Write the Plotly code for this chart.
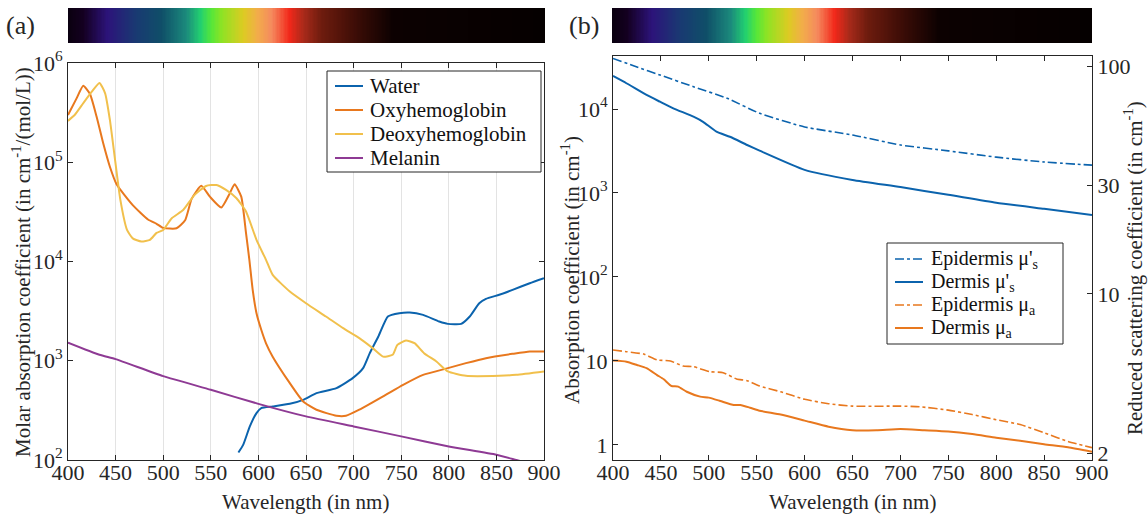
import plotly.graph_objects as go

# ---------------- data: panel (a) ----------------
water_wl = [579, 584, 591, 598, 603, 615, 633, 647, 661, 682, 699, 710, 717, 726, 736, 748, 759, 773, 790, 799, 813, 822, 832, 839, 853, 867, 885, 900]
water = [119, 142, 218, 297, 333, 346, 368, 404, 472, 530, 668, 842, 1193, 1755, 2790, 3015, 3063, 2900, 2486, 2353, 2353, 2790, 3800, 4200, 4620, 5180, 6040, 6790]

oxy_wl = [400, 409, 416, 423, 430, 437, 444, 451, 468, 484, 493, 500, 514, 523, 530, 540, 549, 561, 570, 575, 582, 587, 590.5, 594, 598, 603, 608, 615, 633, 647, 661, 682, 692, 706, 731, 752, 773, 799, 818, 839, 867, 885, 900]
oxy = [299e3, 440e3, 590e3, 490e3, 289e3, 155e3, 90e3, 60e3, 37e3, 26.5e3, 24e3, 21.8e3, 21.6e3, 26e3, 43e3, 58e3, 45e3, 35e3, 48.8e3, 60e3, 45e3, 19.3e3, 10.4e3, 5180, 3010, 2050, 1500, 1100, 595, 389, 321, 279, 279, 321, 437, 572, 721, 842, 946, 1062, 1174, 1240, 1240]

deoxy_wl = [400, 407, 416, 425, 433, 439, 444, 449, 455, 462, 468, 477, 486, 493, 500, 509, 521, 533, 545, 556, 566, 577, 587, 598, 608, 615, 633, 650, 671, 689, 706, 720, 731, 741, 746, 755, 764, 774, 787, 799, 818, 853, 871, 900]
deoxy = [261e3, 299e3, 393e3, 514e3, 630e3, 495e3, 267e3, 114e3, 41.7e3, 20.8e3, 17.1e3, 15.9e3, 16.5e3, 19.4e3, 20.8e3, 27.3e3, 33e3, 46.9e3, 57.7e3, 59e3, 52.6e3, 43.4e3, 31.9e3, 16.5e3, 10.4e3, 7330, 4980, 3800, 2790, 2130, 1690, 1340, 1100, 1148, 1445, 1600, 1503, 1193, 982, 780, 705, 705, 721, 780]

mel_wl = [400, 433, 450, 500, 550, 600, 650, 700, 750, 800, 850, 871, 900]
mel = [1524, 1150, 1038, 700, 510, 368, 275, 218, 173, 137, 113, 100, 84]

# ---------------- data: panel (b) ----------------
epi_scat_wl = [400, 425, 449, 484, 519, 553, 600, 650, 700, 750, 800, 850, 900]
epi_scat = [108, 99, 91.3, 81.1, 72.2, 62, 54, 49.8, 45, 42.4, 39.8, 37.9, 36.7]

der_scat_wl = [400, 414, 435, 449, 463, 484, 494, 508, 522, 540, 553, 600, 650, 700, 750, 800, 850, 900]
der_scat = [90.4, 84, 74.6, 69.7, 65.2, 59.9, 56.9, 51.5, 48.9, 45, 42.5, 35, 31.6, 29.4, 27.2, 25.1, 23.6, 22.2]

epi_abs_wl = [400, 414, 432, 446, 460, 473, 484, 501, 515, 529, 540, 553, 575, 600, 625, 650, 700, 720, 750, 775, 800, 825, 850, 875, 900]
epi_abs = [13.5, 12.9, 12.1, 10.3, 10.0, 8.7, 8.55, 7.46, 7.26, 6.1, 5.83, 5.04, 4.3, 3.5, 3.1, 2.9, 2.9, 2.85, 2.6, 2.3, 2.0, 1.75, 1.4, 1.1, 0.93]

der_abs_wl = [400, 414, 425, 435, 446, 453, 461, 468, 477, 491, 500, 512, 526, 533, 543, 553, 575, 600, 625, 650, 675, 700, 725, 750, 775, 800, 825, 850, 875, 900]
der_abs = [10.1, 9.8, 8.96, 8.2, 6.8, 6.05, 5.04, 4.95, 4.3, 3.76, 3.66, 3.34, 2.99, 2.99, 2.78, 2.56, 2.3, 1.95, 1.65, 1.5, 1.5, 1.55, 1.5, 1.45, 1.35, 1.22, 1.12, 1.02, 0.94, 0.83]

wl_ticks = [400, 450, 500, 550, 600, 650, 700, 750, 800, 850, 900]
a_yticks = [1e2, 1e3, 1e4, 1e5, 1e6]
a_yticktext = ["10<sup>2</sup>", "10<sup>3</sup>", "10<sup>4</sup>", "10<sup>5</sup>", "10<sup>6</sup>"]
b_yticks = [1, 10, 1e2, 1e3, 1e4]
b_yticktext = ["1", "10", "10<sup>2</sup>", "10<sup>3</sup>", "10<sup>4</sup>"]
b_y2ticks = [2, 10, 30, 100]
b_y2ticktext = ["2", "10", "30", "100"]

# spectrum colour strip
strip_pos = [0.0, 0.03, 0.082, 0.142, 0.195, 0.247, 0.277, 0.30, 0.322, 0.367, 0.397, 0.427, 0.464, 0.494, 0.532, 0.607, 0.682, 1.0]
strip_col = ["#0a0010", "#140020", "#2c137a", "#193a72", "#0f4e68", "#1b8a7c", "#22d070", "#55e63a", "#8ee324",
             "#dccb22", "#f2ad4a", "#f58a5e", "#f2281a", "#a82a1a", "#6e1c0e", "#3a0c06", "#0c0101", "#050000"]
strip_idx = list(range(len(strip_pos) * 20))

BLUE = "#0b63ad"
ORANGE = "#e8781e"
YELLOW = "#f1c04c"
PURPLE = "#8e3a94"
AX = "#262626"
FONT = "Liberation Serif"

W, H = 1148, 521
def px(v): return v / W
def py(v): return 1 - v / H

fig = go.Figure()

lw = 2
sp = dict(shape="spline", smoothing=0.5)
series_a = [
    ("Water", water_wl, water, BLUE, "solid"),
    ("Oxyhemoglobin", oxy_wl, oxy, ORANGE, "solid"),
    ("Deoxyhemoglobin", deoxy_wl, deoxy, YELLOW, "solid"),
    ("Melanin", mel_wl, mel, PURPLE, "solid"),
]
series_b = [
    ("Epidermis μ'<sub>s</sub>", epi_scat_wl, epi_scat, BLUE, "dashdot", "y3"),
    ("Dermis μ'<sub>s</sub>", der_scat_wl, der_scat, BLUE, "solid", "y3"),
    ("Epidermis μ<sub>a</sub>", epi_abs_wl, epi_abs, ORANGE, "dashdot", "y2"),
    ("Dermis μ<sub>a</sub>", der_abs_wl, der_abs, ORANGE, "solid", "y2"),
]
for name, xs, ys, col, dash in series_a:
    fig.add_trace(go.Scatter(x=xs, y=ys, name=name, mode="lines", showlegend=False,
                             line=dict(color=col, width=lw, dash=dash, **sp), xaxis="x", yaxis="y"))
for name, xs, ys, col, dash, yax in series_b:
    fig.add_trace(go.Scatter(x=xs, y=ys, name=name, mode="lines", showlegend=False,
                             line=dict(color=col, width=(1.6 if dash != "solid" else lw), dash=dash, **sp), xaxis="x2", yaxis=yax))

cscale = [[p, c] for p, c in zip(strip_pos, strip_col)]
fig.add_trace(go.Heatmap(z=[strip_idx], colorscale=cscale, showscale=False, xaxis="x3", yaxis="y4", hoverinfo="skip"))
fig.add_trace(go.Heatmap(z=[strip_idx], colorscale=cscale, showscale=False, xaxis="x4", yaxis="y5", hoverinfo="skip"))

tickfont = dict(family=FONT, size=22, color=AX)
titlefont = dict(family=FONT, size=21, color=AX)
common_x = dict(range=[400, 900], tickvals=wl_ticks, ticks="inside", ticklen=5, tickcolor=AX, showline=True,
                linecolor=AX, linewidth=1, mirror="ticks", tickfont=tickfont, zeroline=False, ticklabelstandoff=-7)

def title_ann(text, x, y, angle=0):
    return dict(text=text, x=px(x), y=py(y), xref="paper", yref="paper", xanchor="center", yanchor="middle",
                showarrow=False, textangle=angle, font=titlefont)

# hand-built legends (box, swatches, labels)
shapes = []
annotations = []
def add_legend(box, sw_x0, sw_x1, text_x, rows, entries, fsize):
    x0, y0, x1, y1 = box
    shapes.append(dict(type="rect", xref="paper", yref="paper", x0=px(x0), x1=px(x1), y0=py(y1), y1=py(y0),
                       line=dict(color=AX, width=1), fillcolor="white", layer="above"))
    for yy, (name, col, dash) in zip(rows, entries):
        shapes.append(dict(type="line", xref="paper", yref="paper", x0=px(sw_x0), x1=px(sw_x1), y0=py(yy), y1=py(yy),
                           line=dict(color=col, width=(1.6 if dash != "solid" else 2), dash=dash), layer="above"))
        annotations.append(dict(text=name, x=px(text_x), y=py(yy), xref="paper", yref="paper", xanchor="left",
                                yanchor="middle", showarrow=False, font=dict(family=FONT, size=fsize, color="#111111")))

add_legend((327, 71, 541, 172), 335, 363, 368, [86, 110, 134, 158],
           [(s[0], s[3], s[4]) for s in series_a], 21)
add_legend((887, 243, 1063, 344), 895, 923, 929, [259, 282, 305, 328],
           [(s[0], s[3], s[4]) for s in series_b], 20)

annotations += [
    dict(text="(a)", x=px(4), y=py(25), xref="paper", yref="paper", xanchor="left", yanchor="middle", showarrow=False,
         font=dict(family=FONT, size=26, color=AX)),
    dict(text="(b)", x=px(567), y=py(25), xref="paper", yref="paper", xanchor="left", yanchor="middle", showarrow=False,
         font=dict(family=FONT, size=26, color=AX)),
    title_ann("Wavelength (in nm)", 306, 502),
    title_ann("Wavelength (in nm)", 852, 502),
    title_ann("Molar absorption coefficient (in cm<sup>-1</sup>/(mol/L))", 21, 262, -90),
    title_ann("Absorption coefficient (in cm<sup>-1</sup>)", 570, 270, -90),
    title_ann("Reduced scattering coefficient (in cm<sup>-1</sup>)", 1133, 268, -90),
]

fig.update_layout(
    width=W, height=H, margin=dict(l=0, r=0, t=0, b=0, autoexpand=False),
    plot_bgcolor="white", paper_bgcolor="white",
    font=dict(family=FONT, color=AX),
    showlegend=False,
    xaxis=dict(domain=[px(68), px(544)], anchor="y", showgrid=True, gridcolor="#e3e3e3", gridwidth=1, **common_x),
    yaxis=dict(domain=[py(460), py(63)], anchor="x", type="log", range=[2, 6], tickvals=a_yticks, ticktext=a_yticktext,
               ticks="inside", ticklen=5, tickcolor=AX, showline=True, linecolor=AX, linewidth=1, mirror="ticks",
               showgrid=False, tickfont=tickfont, zeroline=False),
    xaxis2=dict(domain=[px(613), px(1092)], anchor="y2", showgrid=False, **common_x),
    yaxis2=dict(domain=[py(460), py(56)], anchor="x2", type="log", range=[-0.179, 4.631], tickvals=b_yticks, ticktext=b_yticktext,
                ticks="inside", ticklen=5, tickcolor=AX, showline=True, linecolor=AX, linewidth=1,
                showgrid=False, tickfont=tickfont, zeroline=False),
    yaxis3=dict(overlaying="y2", anchor="x2", side="right", type="log", range=[0.2704, 2.0439], tickvals=b_y2ticks, ticktext=b_y2ticktext,
                ticks="inside", ticklen=5, tickcolor=AX, showline=True, linecolor=AX, linewidth=1,
                showgrid=False, tickfont=tickfont, zeroline=False),
    xaxis3=dict(domain=[px(68), px(545)], anchor="y4", visible=False),
    yaxis4=dict(domain=[py(43), py(8)], anchor="x3", visible=False),
    xaxis4=dict(domain=[px(612), px(1092)], anchor="y5", visible=False),
    yaxis5=dict(domain=[py(43), py(8)], anchor="x4", visible=False),
    shapes=shapes,
    annotations=annotations,
)

fig.write_html("out.html", config={"displayModeBar": False}, post_script="document.body.style.margin='0';")
